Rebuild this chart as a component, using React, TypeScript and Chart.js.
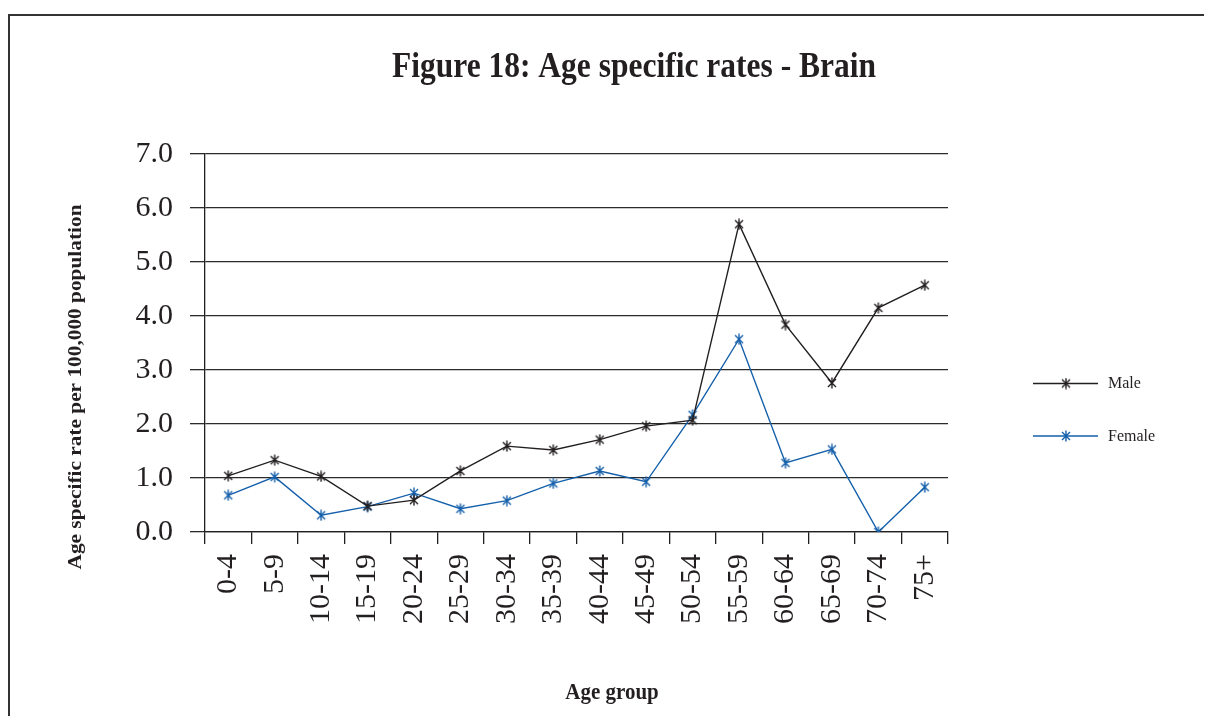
import { useEffect, useRef } from 'react';
import { Chart, registerables } from 'chart.js';

Chart.register(...registerables);

const categories = ['0-4', '5-9', '10-14', '15-19', '20-24', '25-29', '30-34', '35-39', '40-44', '45-49', '50-54', '55-59', '60-64', '65-69', '70-74', '75+'];
const maleRates = [1.04, 1.33, 1.03, 0.48, 0.59, 1.13, 1.59, 1.52, 1.71, 1.96, 2.07, 5.70, 3.84, 2.76, 4.15, 4.57];
const femaleRates = [0.68, 1.02, 0.31, 0.47, 0.72, 0.43, 0.58, 0.90, 1.13, 0.93, 2.17, 3.57, 1.28, 1.53, 0.00, 0.83];
const yTicks = [0, 1, 2, 3, 4, 5, 6, 7];
const seriesNames = ['Male', 'Female'];

const TITLE = 'Figure 18: Age specific rates - Brain';
const Y_TITLE = 'Age specific rate per 100,000 population';
const X_TITLE = 'Age group';

const MALE_COLOR = '#231f20';
const FEMALE_COLOR = '#1560ab';
const FONT = '"Liberation Serif", "Times New Roman", serif';

function makeMarker(color: string): HTMLCanvasElement {
  const c = document.createElement('canvas');
  c.width = 12;
  c.height = 12;
  const g = c.getContext('2d')!;
  g.strokeStyle = color;
  g.lineWidth = 1.4;
  g.beginPath();
  g.moveTo(2, 2);
  g.lineTo(10, 10);
  g.moveTo(10, 2);
  g.lineTo(2, 10);
  g.moveTo(6, 0.5);
  g.lineTo(6, 11.5);
  g.stroke();
  return c;
}

export default function App() {
  const ref = useRef<HTMLCanvasElement>(null);

  useEffect(() => {
    if (!ref.current) return;
    const maleMarker = makeMarker(MALE_COLOR);
    const femaleMarker = makeMarker(FEMALE_COLOR);

    const decor = {
      id: 'decor',
      afterDraw(chart: any) {
        const ctx = chart.ctx as CanvasRenderingContext2D;
        ctx.save();
        // frame
        ctx.strokeStyle = '#333';
        ctx.lineWidth = 2;
        ctx.beginPath();
        ctx.moveTo(1, 708);
        ctx.lineTo(1, 7);
        ctx.lineTo(1204, 7);
        ctx.stroke();

        ctx.fillStyle = '#231f20';
        // main title
        ctx.save();
        ctx.translate(626, 68.5);
        ctx.scale(1, 1.12);
        ctx.font = `bold 31.5px ${FONT}`;
        ctx.textAlign = 'center';
        ctx.textBaseline = 'alphabetic';
        ctx.fillText(TITLE, 0, 0);
        ctx.restore();

        // y title
        ctx.save();
        ctx.translate(68, 379);
        ctx.rotate(-Math.PI / 2);
        ctx.font = `bold 18px ${FONT}`;
        const w = ctx.measureText(Y_TITLE).width;
        ctx.scale(365 / w, 1);
        ctx.textAlign = 'center';
        ctx.textBaseline = 'middle';
        ctx.fillText(Y_TITLE, 0, 0);
        ctx.restore();

        // x title
        ctx.save();
        ctx.translate(604, 691);
        ctx.scale(1, 1.12);
        ctx.font = `bold 21px ${FONT}`;
        ctx.textAlign = 'center';
        ctx.textBaseline = 'alphabetic';
        ctx.fillText(X_TITLE, 0, 0);
        ctx.restore();

        // legend
        const items = [
          { name: seriesNames[0], color: MALE_COLOR, marker: maleMarker, y: 375.5 },
          { name: seriesNames[1], color: FEMALE_COLOR, marker: femaleMarker, y: 428 },
        ];
        for (const it of items) {
          ctx.strokeStyle = it.color;
          ctx.lineWidth = 1.4;
          ctx.beginPath();
          ctx.moveTo(1025, it.y);
          ctx.lineTo(1090, it.y);
          ctx.stroke();
          ctx.drawImage(it.marker, 1058 - 6, it.y - 6);
          ctx.save();
          ctx.translate(1100, it.y);
          ctx.scale(1, 1.1);
          ctx.font = `16px ${FONT}`;
          ctx.fillStyle = '#231f20';
          ctx.textAlign = 'left';
          ctx.textBaseline = 'middle';
          ctx.fillText(it.name, 0, 0);
          ctx.restore();
        }
        ctx.restore();
      },
    };

    const chart = new Chart(ref.current, {
      type: 'line',
      data: {
        labels: categories,
        datasets: [
          {
            label: seriesNames[0],
            data: maleRates,
            borderColor: MALE_COLOR,
            backgroundColor: MALE_COLOR,
            borderWidth: 1.4,
            pointStyle: maleMarker as any,
            pointRadius: 6,
            tension: 0,
          },
          {
            label: seriesNames[1],
            data: femaleRates,
            borderColor: FEMALE_COLOR,
            backgroundColor: FEMALE_COLOR,
            borderWidth: 1.4,
            pointStyle: femaleMarker as any,
            pointRadius: 6,
            tension: 0,
          },
        ],
      },
      options: {
        responsive: false,
        animation: false,
        devicePixelRatio: 1,
        layout: { padding: { top: 146, right: 264, bottom: 0, left: 0 } },
        plugins: {
          legend: { display: false },
          title: { display: false },
          tooltip: { enabled: false },
        },
        scales: {
          x: {
            type: 'category',
            offset: true,
            grid: {
              offset: true,
              drawOnChartArea: false,
              drawTicks: true,
              tickLength: 12,
              color: '#231f20',
              lineWidth: 1.3,
            },
            border: { display: true, color: '#231f20', width: 1.3 },
            ticks: {
              autoSkip: false,
              minRotation: 90,
              maxRotation: 90,
              padding: 10,
              color: '#231f20',
              font: { family: FONT, size: 30 },
            },
            afterFit(scale: any) {
              scale.height = 184;
            },
          },
          y: {
            min: 0,
            max: 7,
            afterBuildTicks(scale: any) {
              scale.ticks = yTicks.map((v) => ({ value: v }));
            },
            grid: {
              drawOnChartArea: true,
              drawTicks: true,
              tickLength: 15,
              color: '#2b2b2b',
              lineWidth: 1.3,
            },
            border: { display: true, color: '#231f20', width: 1.3 },
            ticks: {
              padding: 17,
              color: '#231f20',
              font: { family: FONT, size: 30 },
              callback: (v: any) => Number(v).toFixed(1),
            },
            afterFit(scale: any) {
              scale.width = 197;
            },
          },
        },
      },
      plugins: [decor],
    });

    return () => chart.destroy();
  }, []);

  return (
    <canvas
      ref={ref}
      width={1204}
      height={708}
      style={{ display: 'block', width: 1204, height: 708 }}
    />
  );
}
